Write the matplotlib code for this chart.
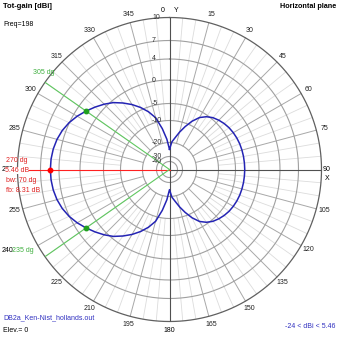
import numpy as np
import matplotlib
matplotlib.use("Agg")
import matplotlib.pyplot as plt
from matplotlib.transforms import offset_copy

plt.rcParams['font.family'] = ['Liberation Sans', 'DejaVu Sans']

# --- pattern data (horizontal plane, azimuth clockwise from Y) ---
azimuth = np.arange(0, 365, 5)
gain_dbi = [
    -24.0, -19.5, -17.0, -14.0, -11.2, -8.6, -6.6, -5.4, -4.6, -4.1,
    -3.7, -3.4, -3.2, -3.05, -2.95, -2.9, -2.87, -2.86, -2.85,
    -2.86, -2.87, -2.9, -2.95, -3.05, -3.2, -3.4, -3.7, -4.1, -4.6,
    -5.4, -6.6, -8.6, -11.2, -14.0, -17.0, -19.5, -24.0,
    -18.0, -12.8, -8.5, -6.2, -4.4, -2.9, -1.6, -0.4, 0.6, 1.55,
    2.46, 3.32, 4.05, 4.62, 5.02, 5.28, 5.42, 5.46,
    5.42, 5.28, 5.02, 4.62, 4.05, 3.32, 2.46, 1.55, 0.6, -0.4,
    -1.6, -2.9, -4.4, -6.2, -8.5, -12.8, -18.0, -24.0,
]

max_az, max_gain = 270, 5.46
bw_az = [305, 235]
bw_gain = 2.46
front_back = 8.31
beamwidth = 70
freq = 198
min_label = -24

# dB rings and the radius each ring sits on (pixels from centre)
ring_db = [-40, -30, -20, -10, -5, 0, 4, 7, 10]
ring_px = [8, 13, 27, 49, 66, 89.5, 110.5, 129, 152]
R = ring_px[-1]
FS = 5.0


def db_to_r(db):
    return np.exp(np.interp(db, ring_db, np.log(ring_px)))


fig = plt.figure(figsize=(3.39, 3.39), dpi=100)
fig.patch.set_facecolor('white')
s = R / 339
ax = fig.add_axes([0.5 - s, 0.5 - s, 2 * s, 2 * s], projection='polar')
ax.set_theta_zero_location('N')
ax.set_theta_direction(-1)
ax.set_ylim(0, R)
ax.axis('off')

full = np.linspace(0, 2 * np.pi, 721)

# spokes: light every 5 dg, darker every 15 dg
for a in range(0, 360, 5):
    t = np.radians(a)
    if a % 90 == 0:
        continue
    if a % 15 == 0:
        ax.plot([t, t], [db_to_r(-20), R], color='#a8a8a8', lw=0.7, clip_on=False)
    else:
        ax.plot([t, t], [db_to_r(-10), R], color='#dcdcdc', lw=0.6, clip_on=False)

# dB rings
for db in ring_db[:-1]:
    ax.plot(full, np.full_like(full, db_to_r(db)), color='#a0a0a0', lw=0.8, clip_on=False)
ax.plot(full, np.full_like(full, R), color='#606060', lw=0.9, clip_on=False)

# main axes
ax.plot([0, np.pi], [R, R], color='#505050', lw=0.8)
ax.plot([0, np.pi / 2], [0, R], color='#505050', lw=0.8)
ax.plot([np.radians(max_az)] * 2, [0, R], color='#ff2020', lw=0.8)
for a in bw_az:
    ax.plot([np.radians(a)] * 2, [0, R], color='#60c860', lw=0.8)

# radial labels
lab_tr = offset_copy(ax.transData, fig=fig, x=-17.5, y=0, units='dots')
for db in ring_db:
    ax.text(0, db_to_r(db), str(db), transform=lab_tr, fontsize=FS,
            ha='left', va='center', color='#303030')

# azimuth labels
for a in range(15, 360, 15):
    if a in (90, 180, 270, 240):
        continue
    ax.text(np.radians(a), 160, str(a), fontsize=FS, ha='center', va='center',
            color='#202020', clip_on=False)
ax.text(np.radians(180), 161, '180', fontsize=FS, ha='center', va='center')
ax.text(np.radians(90), 157, '90', fontsize=FS, ha='center', va='center')
ax.text(np.radians(270), 162, '270', fontsize=FS, ha='center', va='center')
ax.text(np.radians(243.3), 181, '240', fontsize=FS, ha='center', va='center')

# pattern
az_rad = np.radians(azimuth)
ax.plot(az_rad, db_to_r(gain_dbi), color='#2424b4', lw=1.1, clip_on=False)
ax.plot(np.radians(max_az), db_to_r(max_gain), 'o', ms=3.2, color='#ff0000')
for a in bw_az:
    ax.plot(np.radians(a), db_to_r(bw_gain), 'o', ms=3.2, color='#20a020')

# figure texts (pixel positions)
def ftext(x, y, txt, **kw):
    return fig.text(x / 339, 1 - y / 339, txt, va='center', **kw)

ftext(3, 6, 'Tot-gain [dBi]', fontsize=5.5, fontweight='bold')
ftext(336, 6, 'Horizontal plane', fontsize=5.2, fontweight='bold', ha='right')
ftext(3, 25, f'Freq={freq}', fontsize=FS)
ftext(163, 10, '0', fontsize=FS, ha='center')
ftext(176, 10, 'Y', fontsize=FS, ha='center')
ftext(327, 178, 'X', fontsize=FS, ha='center')
ftext(3, 318, 'DB2a_Ken-Nist_hollands.out', fontsize=FS, color='#3030c0')
ftext(3, 331, 'Elev.= 0', fontsize=FS)
ftext(335, 327, f'{min_label} < dBi < {max_gain}', fontsize=FS, color='#3030c0', ha='right')

red = '#e02020'
ftext(6, 161, f'{max_az} dg', fontsize=FS, color=red)
ftext(5, 170, f'{max_gain} dB', fontsize=FS, color=red,
      bbox=dict(facecolor='white', edgecolor='none', pad=0))
ftext(6, 180.5, f'bw: {beamwidth} dg', fontsize=FS, color=red)
ftext(6, 190, f'fb: {front_back} dB', fontsize=FS, color=red)

green = '#40b040'
ftext(33, 72, f'{bw_az[0]} dg', fontsize=FS, color=green)
ftext(12.5, 250, f'{bw_az[1]} dg', fontsize=FS, color=green,
      bbox=dict(facecolor='white', edgecolor='none', pad=0))

fig.savefig('out.png', dpi=100)
